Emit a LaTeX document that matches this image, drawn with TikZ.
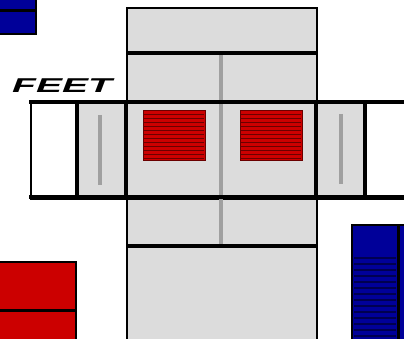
\documentclass[tikz,border=0pt]{standalone}
\usepackage{fontspec}
\setmainfont{Liberation Sans}
\begin{document}
\begin{tikzpicture}[x=1pt,y=-1pt,
  panel/.style={fill=panelgray,draw=black,line width=2pt},
  thickline/.style={line width=4pt,draw=black},
  divider/.style={line width=3.5pt,draw=divgray},
  whitebox/.style={fill=white,draw=black,line width=2pt}]
\definecolor{panelgray}{HTML}{DCDCDC}
\definecolor{divgray}{HTML}{A0A0A0}
\definecolor{redfill}{HTML}{CC0000}
\definecolor{redstripe}{HTML}{6A0000}
\definecolor{bluefill}{HTML}{000099}
\definecolor{bluestripe}{HTML}{000050}
\useasboundingbox (0,0) rectangle (404,339);
% top-left blue
\fill[bluefill] (0,0) rectangle (36,34);
\draw[line width=1.5pt] (36,0) -- (36,34) -- (0,34);
\draw[line width=3pt] (0,11) -- (36,11);
% bottom-left red
\fill[redfill,draw=black,line width=1.5pt] (-2,262) rectangle (76,341);
\draw[line width=3pt] (0,310) -- (76,310);
% bottom-right blue
\fill[bluefill,draw=black,line width=1.5pt] (352,225) rectangle (406,341);
\foreach \y in {258,264,...,338} \draw[bluestripe,line width=1.2pt] (354,\y) -- (396,\y);
\draw[line width=3pt] (398,225) -- (398,339);
% central column
\node[panel,minimum width=190pt,minimum height=46pt,inner sep=0pt,anchor=north west] (top) at (126,7) {};
\node[panel,minimum width=190pt,minimum height=49pt,inner sep=0pt,anchor=north west] (upper) at (126,53) {};
\node[panel,minimum width=190pt,minimum height=48pt,inner sep=0pt,anchor=north west] (lower) at (126,198) {};
\node[panel,minimum width=190pt,minimum height=100pt,inner sep=0pt,anchor=north west] (bottom) at (126,246) {};
\node[panel,minimum width=190pt,minimum height=96pt,inner sep=0pt,anchor=north west] (mid) at (126,102) {};
\node[panel,minimum width=49pt,minimum height=96pt,inner sep=0pt,anchor=north west] (lgray) at (77,102) {};
\node[panel,minimum width=49pt,minimum height=96pt,inner sep=0pt,anchor=north west] (rgray) at (316,102) {};
\node[whitebox,minimum width=47pt,minimum height=96pt,inner sep=0pt,anchor=north west] (lwhite) at (30,102) {};
\node[whitebox,minimum width=47pt,minimum height=96pt,inner sep=0pt,anchor=north west] (rwhite) at (365,102) {};
% dividers
\draw[divider] (221,54) -- (221,246);
\draw[divider] (100,115) -- (100,185);
\draw[divider] (341,114) -- (341,184);
% thick lines
\draw[thickline] (126,53) -- (316,53);
\draw[thickline] (29,102) -- (406,102);
\draw[thickline] (29,197) -- (406,197);
\draw[thickline] (126,246) -- (316,246);
\draw[thickline] (77,102) -- (77,197);
\draw[thickline] (126,102) -- (126,197);
\draw[thickline] (316,102) -- (316,197);
\draw[thickline] (365,102) -- (365,197);
% red vents
\foreach \x in {143,240} {
  \fill[redfill,draw=redstripe,line width=1pt] (\x,111) rectangle ++(62,50);
  \foreach \y in {114.5,118.5,...,158.5} \draw[redstripe,line width=1.4pt] (\x+1,\y) -- (\x+61,\y);
}
% label
\node[anchor=base west,inner sep=0pt] (feet) at (12,93) {\scalebox{1.95}[1]{\fontsize{20}{20}\selectfont\bfseries\itshape FEET}};
\end{tikzpicture}
\end{document}
